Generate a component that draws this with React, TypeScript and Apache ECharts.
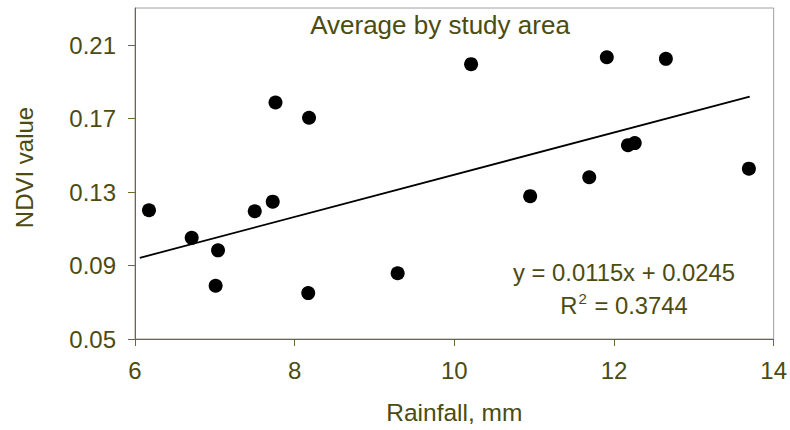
import React, { useEffect, useRef } from "react";
import * as echarts from "echarts";

const rainfall = [6.175, 6.71, 7.04, 7.01, 7.5, 7.725, 7.76, 8.18, 8.17, 9.29, 10.21, 10.95, 11.69, 11.91, 12.175, 12.26, 12.65, 13.69];
const ndvi = [0.1201, 0.1051, 0.0983, 0.079, 0.1196, 0.1248, 0.1788, 0.1705, 0.075, 0.0858, 0.1997, 0.1278, 0.1381, 0.2035, 0.1556, 0.1567, 0.2026, 0.1428];
const trendX = [6.06, 13.7];
const trendY = [0.0942, 0.182];
const yTicks = [0.05, 0.09, 0.13, 0.17, 0.21];
const xTicks = [6, 8, 10, 12, 14];
const titleText = "Average by study area";
const equationText = "y = 0.0115x + 0.0245";
const r2Rich = "{b|R}{s|2}{b| = 0.3744}";
const xName = "Rainfall, mm";
const yName = "NDVI value";

const FONT = "'Liberation Sans', Arial, sans-serif";
const TXT = "#4b4b12";
const AXIS = "#6b6b2e";

export default function App() {
  const ref = useRef<HTMLDivElement>(null);
  useEffect(() => {
    document.body.style.margin = "0";
    const chart = echarts.init(ref.current!, null, { renderer: "svg" });
    const points = rainfall.map((x, i) => [x, ndvi[i]]);
    const trend = trendX.map((x, i) => [x, trendY[i]]);
    chart.setOption({
      animation: false,
      backgroundColor: "#ffffff",
      textStyle: { fontFamily: FONT },
      grid: {
        left: 135,
        top: 8,
        right: 15,
        bottom: 89,
        show: true,
        borderColor: "#a0a0a0",
        borderWidth: 1,
      },
      xAxis: {
        type: "value",
        min: 6,
        max: 14,
        interval: 2,
        name: xName,
        nameLocation: "middle",
        nameGap: 61,
        nameTextStyle: { color: TXT, fontSize: 24.5, fontFamily: FONT },
        axisLine: { show: true, lineStyle: { color: AXIS, width: 1 } },
        axisTick: { show: true, length: 7, lineStyle: { color: AXIS }, customValues: xTicks },
        axisLabel: { color: TXT, fontSize: 24, margin: 19, fontFamily: FONT, customValues: xTicks },
        splitLine: { show: false },
      },
      yAxis: {
        type: "value",
        min: 0.05,
        max: 0.2303,
        interval: 0.04,
        name: yName,
        nameLocation: "middle",
        nameGap: 99,
        nameRotate: 90,
        nameTextStyle: { color: TXT, fontSize: 24, fontFamily: FONT, padding: [0, 0, 0, 12] },
        axisLine: { show: true, lineStyle: { color: AXIS, width: 1 } },
        axisTick: { show: true, length: 7, lineStyle: { color: AXIS }, customValues: yTicks },
        axisLabel: {
          color: TXT,
          fontSize: 24,
          margin: 19,
          fontFamily: FONT,
          customValues: yTicks,
          formatter: (v: number) => v.toFixed(2),
        },
        splitLine: { show: false },
      },
      series: [
        {
          type: "line",
          data: trend,
          symbol: "none",
          lineStyle: { color: "#000000", width: 1.8 },
          z: 2,
        },
        {
          type: "scatter",
          data: points,
          symbol: "circle",
          symbolSize: 14,
          itemStyle: { color: "#000000", opacity: 1 },
          z: 3,
        },
      ],
      graphic: [
        {
          type: "text",
          x: 440,
          y: 25,
          style: {
            text: titleText,
            fill: TXT,
            fontSize: 26,
            fontFamily: FONT,
            textAlign: "center",
            textVerticalAlign: "middle",
          },
        },
        {
          type: "text",
          x: 624,
          y: 272,
          style: {
            text: equationText,
            fill: TXT,
            fontSize: 23.8,
            fontFamily: FONT,
            textAlign: "center",
            textVerticalAlign: "middle",
          },
        },
        {
          type: "text",
          x: 624,
          y: 305,
          style: {
            text: r2Rich,
            fill: TXT,
            fontFamily: FONT,
            textAlign: "center",
            textVerticalAlign: "middle",
            rich: {
              b: { fontSize: 23.8, fill: TXT, fontFamily: FONT, lineHeight: 28 },
              s: { fontSize: 15, fill: TXT, fontFamily: FONT, verticalAlign: "top", lineHeight: 16, padding: [0, 1, 0, 1] },
            },
          },
        },
      ],
    });
    return () => chart.dispose();
  }, []);
  return <div ref={ref} style={{ position: "fixed", left: 0, top: 0, width: 790, height: 430 }} />;
}
